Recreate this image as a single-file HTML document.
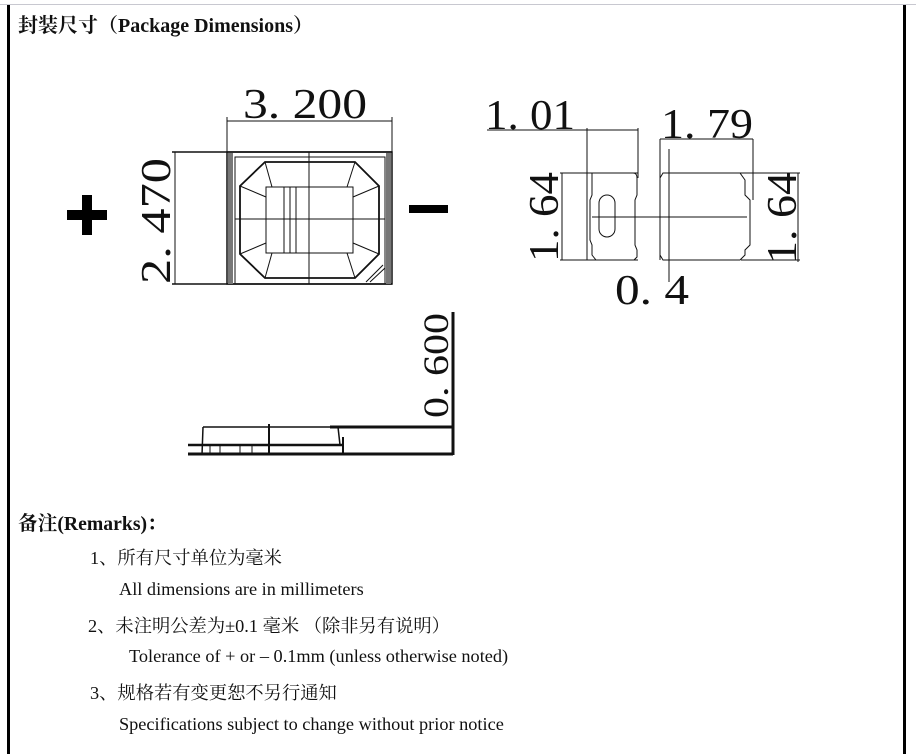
<!DOCTYPE html>
<html><head><meta charset="utf-8"><style>
html,body{margin:0;padding:0;background:#fff;}
body{width:916px;height:754px;position:relative;overflow:hidden;font-family:"Liberation Serif","Noto Serif CJK SC",serif;}
.t{position:absolute;white-space:nowrap;color:#111;font-size:18.3px;}
</style></head><body>
<div style="position:absolute;left:0;top:4px;width:916px;height:1px;background:#c8c8d0"></div>
<div style="position:absolute;left:7px;top:5px;width:3px;height:749px;background:#000"></div>
<div style="position:absolute;left:903px;top:5px;width:3px;height:749px;background:#000"></div>
<div class="t" style="left:18px;top:9px;font-weight:bold;font-size:20px;">封装尺寸（Package Dimensions）</div>
<div class="t" style="left:18px;top:507px;font-weight:bold;font-size:19.7px;">备注(Remarks)：</div>
<div class="t" style="left:90px;top:544px;">1、所有尺寸单位为毫米</div>
<div class="t" style="left:119px;top:579px;">All dimensions are in millimeters</div>
<div class="t" style="left:88px;top:612px;">2、未注明公差为±0.1 毫米 （除非另有说明）</div>
<div class="t" style="left:129px;top:646px;">Tolerance of + or – 0.1mm (unless otherwise noted)</div>
<div class="t" style="left:90px;top:679px;">3、规格若有变更恕不另行通知</div>
<div class="t" style="left:119px;top:714px;">Specifications subject to change without prior notice</div>
<svg width="916" height="754" style="position:absolute;left:0;top:0" xmlns="http://www.w3.org/2000/svg">
<g stroke="#111" fill="none" stroke-width="1">
<rect x="67" y="210" width="40" height="10" fill="#000" stroke="none"/>
<rect x="82" y="195" width="10" height="40" fill="#000" stroke="none"/>
<rect x="409" y="205" width="39" height="8" fill="#000" stroke="none"/>
<line x1="227" y1="121" x2="392" y2="121"/>
<line x1="227" y1="117" x2="227" y2="155"/><line x1="392" y1="117" x2="392" y2="155"/>
<line x1="172" y1="152" x2="392" y2="152" stroke-width="1.5"/>
<line x1="172" y1="284" x2="392" y2="284" stroke-width="1.5"/>
<line x1="175" y1="152" x2="175" y2="284"/>
<rect x="227" y="152" width="165" height="132" stroke-width="1.5"/>
<rect x="228" y="153" width="5" height="131" fill="#777" stroke="none"/>
<rect x="386" y="153" width="5" height="131" fill="#777" stroke="none"/>
<rect x="235" y="157" width="150" height="127"/>
<polygon points="265,162 355,162 379,186 379,254 355,278 265,278 240,254 240,186" stroke-width="1.8"/>
<rect x="266" y="187" width="87" height="66"/>
<line x1="265" y1="162" x2="272" y2="187"/><line x1="355" y1="162" x2="347" y2="187"/>
<line x1="240" y1="186" x2="266" y2="197"/><line x1="379" y1="186" x2="353" y2="197"/>
<line x1="240" y1="254" x2="266" y2="243"/><line x1="379" y1="254" x2="353" y2="243"/>
<line x1="265" y1="278" x2="272" y2="253"/><line x1="355" y1="278" x2="347" y2="253"/>
<line x1="284" y1="187" x2="284" y2="253"/><line x1="290" y1="187" x2="290" y2="253"/><line x1="296" y1="187" x2="296" y2="253"/>
<line x1="309" y1="152" x2="309" y2="284"/>
<line x1="235" y1="219" x2="385" y2="219"/>
<line x1="366" y1="282" x2="383" y2="265"/><line x1="370" y1="282" x2="385" y2="268"/>
<line x1="487" y1="130" x2="638" y2="130"/>
<line x1="587" y1="128" x2="587" y2="260"/><line x1="638" y1="128" x2="638" y2="178"/>
<line x1="560" y1="173" x2="638" y2="173"/>
<line x1="560" y1="260" x2="638" y2="260"/>
<line x1="562" y1="173" x2="562" y2="260"/>
<path d="M592,173 H633 Q637,173 637,178 V195 L635,200 V245 L637,250 V257 L634,260 H596 L592,255 V245 L590,240 V200 L592,195 Z"/>
<rect x="599" y="195" width="16" height="42" rx="8"/>
<line x1="592" y1="217" x2="747" y2="217"/>
<line x1="660" y1="139" x2="753" y2="139"/>
<line x1="660" y1="139" x2="660" y2="260"/><line x1="753" y1="139" x2="753" y2="200"/>
<path d="M663,173 H740 L745,180 V195 L750,200 V245 L745,250 V255 L740,260 H663 L660,255 V178 Z"/>
<line x1="663" y1="173" x2="800" y2="173"/>
<line x1="741" y1="260" x2="800" y2="260"/>
<line x1="798" y1="173" x2="798" y2="262"/>
<line x1="669" y1="149" x2="669" y2="282"/>
<line x1="453" y1="312" x2="453" y2="455" stroke-width="3"/>
<line x1="330" y1="427" x2="453" y2="427" stroke-width="3"/>
<line x1="203" y1="427" x2="330" y2="427" stroke-width="1.5"/>
<line x1="203" y1="427" x2="202" y2="455" stroke-width="1.5"/>
<line x1="269" y1="424" x2="269" y2="455" stroke-width="2"/>
<line x1="338" y1="427" x2="340" y2="445" stroke-width="1.5"/>
<line x1="188" y1="445" x2="343" y2="445" stroke-width="2.5"/>
<line x1="188" y1="454" x2="453" y2="454" stroke-width="3"/>
<line x1="210" y1="446" x2="210" y2="454"/><line x1="220" y1="446" x2="220" y2="454"/><line x1="240" y1="446" x2="240" y2="454"/><line x1="252" y1="446" x2="252" y2="454"/><line x1="343" y1="437" x2="343" y2="454" stroke-width="2"/>
</g>
<g font-family="Liberation Serif, serif" fill="#111" font-size="42">
<text x="243" y="118" textLength="124" lengthAdjust="spacingAndGlyphs">3. 200</text>
<text x="485" y="129" textLength="90" lengthAdjust="spacingAndGlyphs">1. 01</text>
<text x="661" y="138" textLength="92" lengthAdjust="spacingAndGlyphs">1. 79</text>
<text x="615" y="304" textLength="74" lengthAdjust="spacingAndGlyphs">0. 4</text>
<text transform="translate(170,284) rotate(-90)" textLength="126" lengthAdjust="spacingAndGlyphs">2. 470</text>
<text transform="translate(558,262) rotate(-90)" textLength="90" lengthAdjust="spacingAndGlyphs">1. 64</text>
<text transform="translate(796,264) rotate(-90)" textLength="92" lengthAdjust="spacingAndGlyphs">1. 64</text>
<text transform="translate(448,418) rotate(-90)" font-size="36" textLength="105" lengthAdjust="spacingAndGlyphs">0. 600</text>
</g>
</svg>
</body></html>
